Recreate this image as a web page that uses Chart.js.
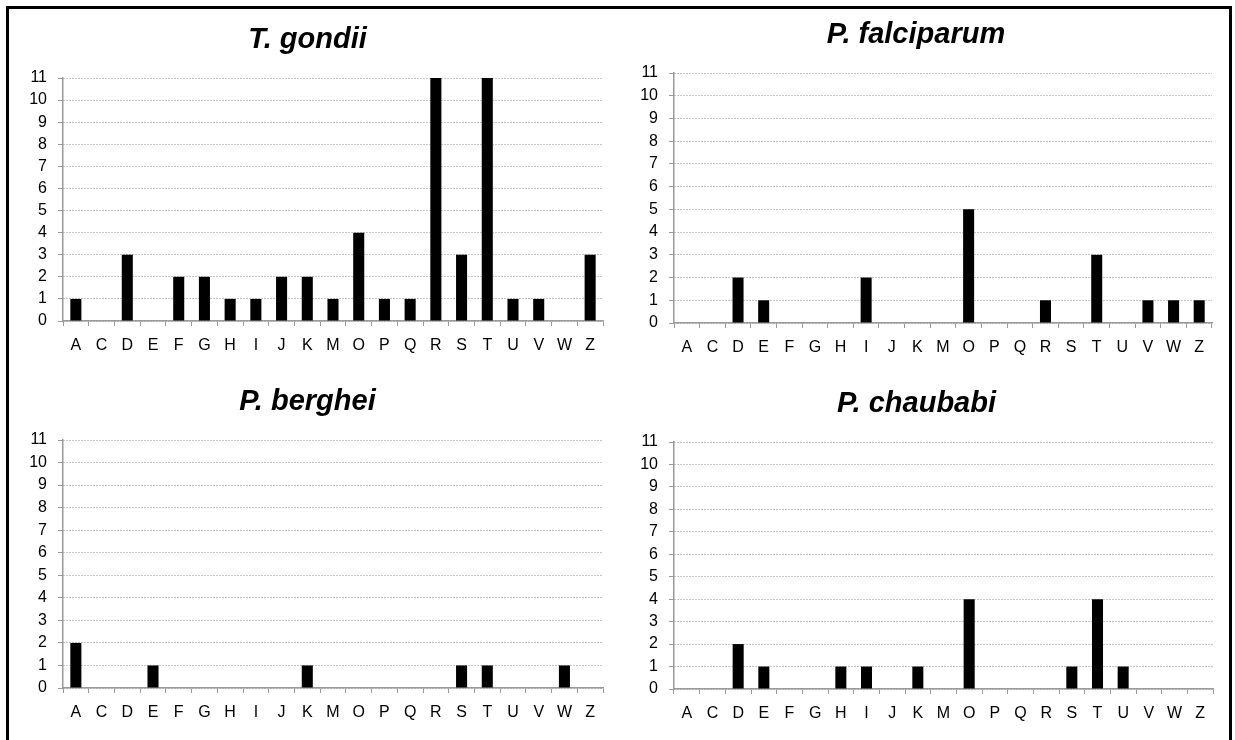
<!DOCTYPE html>
<html lang="en">
<head>
  <meta charset="UTF-8">
  <title>Parasite counts</title>
  <script src="https://cdn.jsdelivr.net/npm/chart.js"></script>
  <style>
    body {
      margin: 0;
      background: #fff;
    }
    .sheet {
      position: relative;
      width: 1235px;
      height: 740px;
      overflow: hidden;
    }
    .frame {
      position: absolute;
      left: 6px;
      top: 6px;
      width: 1220px;
      height: 740px;
      border: 3px solid #000;
    }
    canvas {
      position: absolute;
    }
  </style>
</head>
<body>
  <div class="sheet" id="sheet">
    <div class="frame"></div>
  </div>

  <script>
    const categories = ['A','C','D','E','F','G','H','I','J','K','M','O','P','Q','R','S','T','U','V','W','Z'];
    const yMin = 0;
    const yMax = 11;

    const gondii     = [1,0,3,0,2,2,1,1,2,2,1,4,1,1,11,3,11,1,1,0,3];
    const falciparum = [0,0,2,1,0,0,0,2,0,0,0,5,0,0,1,0,3,0,1,1,1];
    const berghei    = [2,0,0,1,0,0,0,0,0,1,0,0,0,0,0,1,1,0,0,1,0];
    const chaubabi   = [0,0,2,1,0,0,1,1,0,1,0,4,0,0,0,1,4,1,0,0,0];

    // panel placement on the 1235x740 sheet
    const panels = [
      { title: 'T. gondii',     data: gondii,     left: 12,  top: 10,  w: 606, h: 355, yw: 51, xh: 44, titleY: 30, areaTop: 68, padRight: 15 },
      { title: 'P. falciparum', data: falciparum, left: 620, top: 10,  w: 612, h: 355, yw: 54, xh: 42, titleY: 25, areaTop: 63, padRight: 20 },
      { title: 'P. berghei',    data: berghei,    left: 12,  top: 370, w: 606, h: 370, yw: 51, xh: 52, titleY: 32, areaTop: 70, padRight: 15 },
      { title: 'P. chaubabi',   data: chaubabi,   left: 620, top: 370, w: 612, h: 370, yw: 54, xh: 51, titleY: 34, areaTop: 72, padRight: 19 }
    ];

    const font = "'Liberation Sans', Arial, sans-serif";
    const axisGray = '#9a9a9a';
    const titleSize = 29;
    const titleLine = titleSize * 1.2;

    const sheet = document.getElementById('sheet');

    panels.forEach((p) => {
      const canvas = document.createElement('canvas');
      canvas.width = p.w;
      canvas.height = p.h;
      canvas.style.left = p.left + 'px';
      canvas.style.top = p.top + 'px';
      canvas.style.width = p.w + 'px';
      canvas.style.height = p.h + 'px';
      sheet.appendChild(canvas);

      const padTop = p.titleY - titleLine / 2;
      const padBottom = p.areaTop - padTop - titleLine;

      new Chart(canvas.getContext('2d'), {
        type: 'bar',
        data: {
          labels: categories,
          datasets: [{
            data: p.data,
            backgroundColor: '#000',
            borderWidth: 0,
            barPercentage: 0.43,
            categoryPercentage: 1
          }]
        },
        options: {
          responsive: false,
          animation: false,
          devicePixelRatio: 1,
          layout: { padding: { left: 0, right: p.padRight, top: 0, bottom: 0 } },
          plugins: {
            legend: { display: false },
            tooltip: { enabled: false },
            title: {
              display: true,
              text: p.title,
              color: '#000',
              font: { family: font, size: titleSize, weight: 'bold', style: 'italic', lineHeight: 1.2 },
              padding: { top: padTop, bottom: padBottom }
            }
          },
          scales: {
            x: {
              offset: true,
              grid: {
                offset: true,
                drawOnChartArea: false,
                drawTicks: true,
                tickLength: 5,
                color: axisGray
              },
              border: { color: axisGray, width: 1.5 },
              ticks: {
                autoSkip: false,
                maxRotation: 0,
                padding: 10,
                color: '#000',
                font: { family: font, size: 16 }
              },
              afterFit: (scale) => { scale.height = p.xh; }
            },
            y: {
              min: yMin,
              max: yMax,
              grid: {
                color: '#8c8c8c',
                lineWidth: 1,
                drawTicks: true,
                tickLength: 5,
                tickColor: axisGray
              },
              // in v4 border.dash styles the grid lines
              border: { color: axisGray, width: 1.5, dash: [1, 2] },
              ticks: {
                stepSize: 1,
                autoSkip: false,
                padding: 11,
                color: '#000',
                font: { family: font, size: 16 }
              },
              afterFit: (scale) => { scale.width = p.yw; }
            }
          }
        }
      });
    });
  </script>
</body>
</html>
